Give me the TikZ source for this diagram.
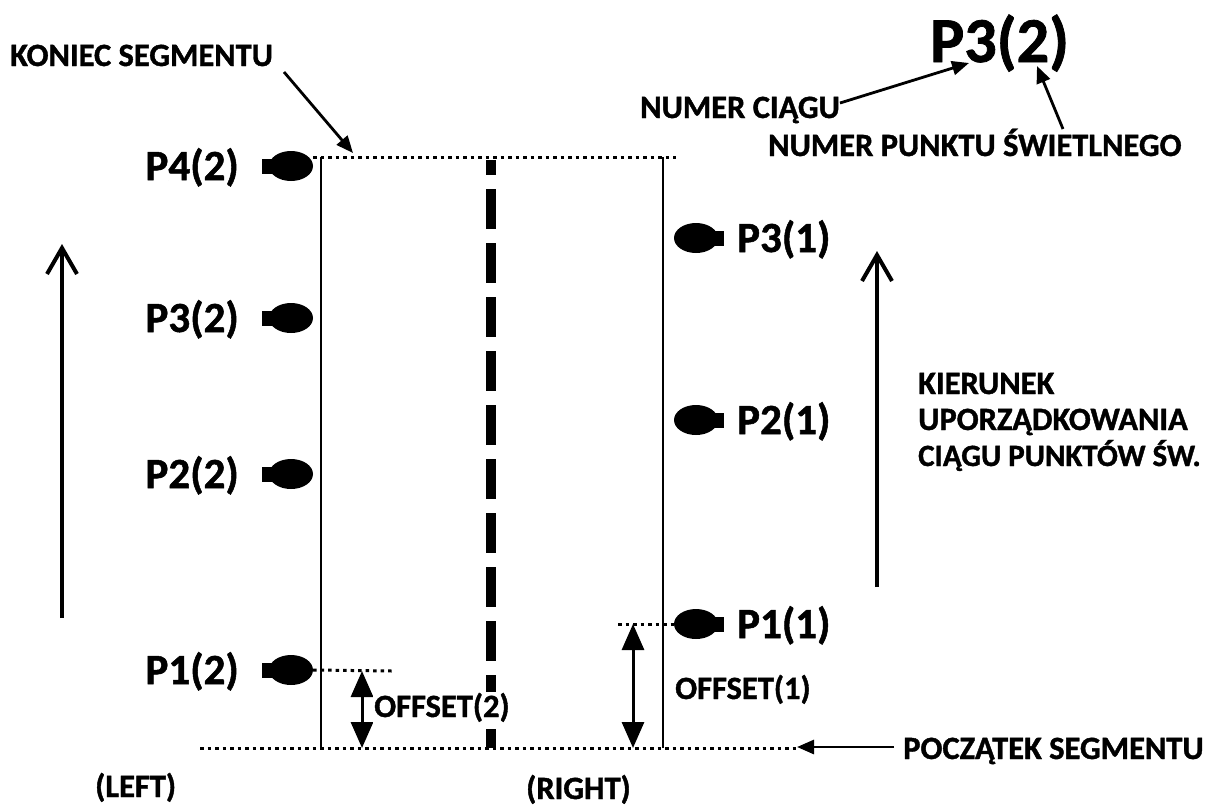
\documentclass[tikz,border=0pt]{standalone}
\usepackage{fontspec}
\setmainfont{Carlito}[BoldFeatures={FakeBold=1.2}]
\usetikzlibrary{arrows.meta,shapes.geometric}
\begin{document}
\begin{tikzpicture}[x=1pt,y=-1pt,
  lbl/.style={font=\bfseries\fontsize{32.5}{38}\selectfont,inner sep=0},
  plbl/.style={font=\bfseries\fontsize{43}{48}\selectfont,inner sep=0},
  bulb/.style={ellipse,fill=black,minimum width=44,minimum height=30,inner sep=0},
  stub/.style={rectangle,fill=black,minimum width=12,minimum height=15,inner sep=0},
  dotline/.style={line width=3pt,dash pattern=on 3.5pt off 4pt},
  edge/.style={line width=1.8pt},
  thinarrow/.style={line width=2.8pt,-{Triangle[length=17pt,width=14pt]}},
  bigarrow/.style={line width=4pt,-{Straight Barb[length=26pt,width=30pt,line width=4pt]}},
  offarrow/.style={line width=3pt,{Triangle[length=26pt,width=22pt]}-{Triangle[length=26pt,width=22pt]}}]
\useasboundingbox (0,0) rectangle (1211,807);

% segment edges
\coordinate (LT) at (321,157); \coordinate (LB) at (321,748);
\coordinate (RT) at (663,157); \coordinate (RB) at (663,748);
\draw[edge] (LT) -- (LB);
\draw[edge] (RT) -- (RB);
\coordinate (TopA) at (313,157); \coordinate (TopB) at (676,157);
\draw[dotline] (TopA) -- (TopB);

% centre line
\coordinate (CT) at (491,160); \coordinate (CB) at (491,748);
\draw[line width=10pt,dash pattern=on 40pt off 14pt,dash phase=25pt] (CT) -- (CB);

\coordinate (BotA) at (200,748); \coordinate (BotB) at (798,748);
\draw[dotline] (BotA) -- (BotB);

% left points
\foreach \n/\y in {4/166,3/318,2/474,1/670}{
  \node[stub] (sL\n) at (268,\y) {};
  \node[bulb] (bL\n) at (291,\y) {};
  \node[plbl,anchor=base east] (tL\n) at (239,\y+14) {P\n(2)};
}
% right points
\foreach \n/\y in {3/238,2/420,1/624}{
  \node[stub] (sR\n) at (718,\y) {};
  \node[bulb] (bR\n) at (696,\y) {};
  \node[plbl,anchor=base west] (tR\n) at (737,\y+14) {P\n(1)};
}

% offsets
\coordinate (O2a) at (392,671);
\draw[dotline] (bL1.east) -- (O2a);
\coordinate (O1a) at (618,624);
\draw[dotline] (O1a) -- (bR1.west);
\coordinate (O2t) at (362,671); \coordinate (O2b) at (362,748);
\draw[offarrow] (O2t) -- (O2b);
\coordinate (O1t) at (633,624); \coordinate (O1b) at (633,748);
\draw[offarrow] (O1t) -- (O1b);
\node[lbl,anchor=base west,fill=white,inner sep=1pt] (off2) at (373,717) {OFFSET(2)};
\node[lbl,anchor=base west] (off1) at (675,699) {OFFSET(1)};

% big direction arrows
\coordinate (A1s) at (62,618); \coordinate (A1e) at (62,244);
\draw[bigarrow] (A1s) -- (A1e);
\coordinate (A2s) at (877,587); \coordinate (A2e) at (877,251);
\draw[bigarrow] (A2s) -- (A2e);

\node[lbl,anchor=base west] (k1) at (918,394) {KIERUNEK};
\node[lbl,anchor=base west] (k2) at (918,430) {UPORZĄDKOWANIA};
\node[lbl,anchor=base west,font=\bfseries\fontsize{31}{36}\selectfont] (k3) at (918,466) {CIĄGU PUNKTÓW ŚW.};

% top labels
\node[lbl,anchor=base west] (kon) at (10,66) {KONIEC SEGMENTU};
\coordinate (konS) at (284,72); \coordinate (konE) at (353,153);
\draw[thinarrow] (konS) -- (konE);

\node[font=\bfseries\fontsize{64}{72}\selectfont,inner sep=0,anchor=base west] (big) at (930,62) {P3(2)};
\node[lbl,anchor=base west] (nc) at (640,118) {NUMER CIĄGU};
\coordinate (ncS) at (840,103); \coordinate (ncE) at (969,63);
\draw[thinarrow] (ncS) -- (ncE);
\node[lbl,anchor=base west] (np) at (768,156) {NUMER PUNKTU ŚWIETLNEGO};
\coordinate (npS) at (1063,129); \coordinate (npE) at (1037,66);
\draw[thinarrow] (npS) -- (npE);

\node[lbl,anchor=base west] (pocz) at (903,759) {POCZĄTEK SEGMENTU};
\coordinate (pS) at (894,747); \coordinate (pE) at (797,747);
\draw[thinarrow] (pS) -- (pE);

\node[lbl,anchor=base west] (left) at (95,797) {(LEFT)};
\node[lbl,anchor=base west] (right) at (526,799) {(RIGHT)};
\end{tikzpicture}
\end{document}
